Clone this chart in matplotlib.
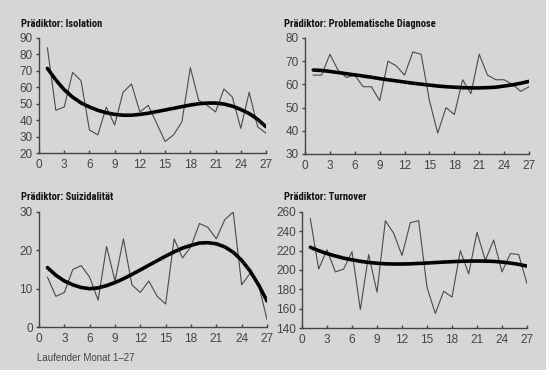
import matplotlib
matplotlib.use('Agg')
import matplotlib.pyplot as plt
from matplotlib.patches import Rectangle
from matplotlib import rcParams

rcParams['font.family'] = ['Liberation Sans', 'DejaVu Sans']
rcParams['font.size'] = 8

months = list(range(1, 28))

isolation = [84, 46, 48, 69, 64, 34, 31, 48, 37, 57, 62, 45, 49, 38, 27, 31, 39,
             72, 52, 49, 45, 59, 54, 35, 57, 36, 32]
isolation_trend = [71.5, 64.5, 58.5, 54, 50.5, 48, 46, 44.5, 43.5, 43, 43, 43.5, 44.2,
                   45.2, 46.2, 47.2, 48.2, 49.2, 50, 50.4, 50.4, 49.8, 48.5, 46.5,
                   44, 40.5, 36]

diagnose = [64, 64, 73, 66, 63, 64, 59, 59, 53, 70, 68, 64, 74, 73, 53, 39, 50,
            47, 62, 56, 73, 64, 62, 62, 60, 57, 59]
diagnose_trend = [66.2, 66, 65.6, 65.1, 64.6, 64.1, 63.6, 63.1, 62.5, 62, 61.5, 61,
                  60.5, 60.1, 59.7, 59.3, 59, 58.8, 58.6, 58.5, 58.5, 58.6, 58.8,
                  59.3, 59.8, 60.5, 61.3]

suizid = [13, 8, 9, 15, 16, 13, 7, 21, 12, 23, 11, 9, 12, 8, 6, 23, 18, 21, 27,
          26, 23, 28, 30, 11, 14, 11, 2]
suizid_trend = [15.5, 13.5, 12, 11, 10.3, 10, 10.2, 10.8, 11.6, 12.6, 13.7, 14.9,
                16.1, 17.3, 18.5, 19.6, 20.6, 21.3, 21.9, 22, 21.7, 20.9, 19.5,
                17.4, 14.6, 11, 6.8]

turnover = [253, 201, 221, 198, 201, 219, 159, 216, 177, 251, 238, 215, 249, 251,
            182, 155, 178, 172, 220, 196, 239, 210, 231, 198, 217, 216, 186]
turnover_trend = [223.5, 220, 217, 214.5, 212.3, 210.5, 209, 207.8, 207, 206.4,
                  206.2, 206.2, 206.4, 206.8, 207.2, 207.7, 208.2, 208.6, 209,
                  209.2, 209.3, 209.2, 208.9, 208.2, 207.2, 205.8, 204]

titles = ['Prädiktor: Isolation', 'Prädiktor: Problematische Diagnose',
          'Prädiktor: Suizidalität', 'Prädiktor: Turnover']
xticks = list(range(0, 28, 3))

W, H = 550, 375
fig = plt.figure(figsize=(5.5, 3.75), dpi=100, facecolor='white')
fig.patches.append(Rectangle((0, 5 / H), 546 / W, 1 - 5 / H, transform=fig.transFigure,
                             facecolor='#d6d6d6', edgecolor='none', zorder=-10))

# panel boxes in pixels: left, right, top, bottom
boxes = [(39, 266, 38, 153), (305, 529, 38, 154), (39, 267, 212, 327), (302, 527, 212, 328)]
title_pos = [(21, 24), (284, 24), (21, 197), (284, 197)]
series = [(isolation, isolation_trend, (20, 90), range(20, 91, 10)),
          (diagnose, diagnose_trend, (30, 80), range(30, 81, 10)),
          (suizid, suizid_trend, (0, 30), range(0, 31, 10)),
          (turnover, turnover_trend, (140, 260), range(140, 261, 20))]

title_font = ['Roboto Condensed', 'Liberation Sans Narrow', 'Liberation Sans', 'DejaVu Sans']

for (l, r, t, b), (tx, ty), title, (vals, trend, ylim, yt) in zip(boxes, title_pos, titles, series):
    ax = fig.add_axes([l / W, 1 - b / H, (r - l) / W, (b - t) / H])
    ax.patch.set_visible(False)
    ax.plot(months, vals, color='#4a4a4a', linewidth=0.8, zorder=2)
    ax.plot(months, trend, color='black', linewidth=2.6, solid_capstyle='round', zorder=3)
    ax.set_xlim(0, 27)
    ax.set_ylim(*ylim)
    ax.set_xticks(xticks)
    ax.set_yticks(list(yt))
    for s in ['top', 'right']:
        ax.spines[s].set_visible(False)
    for s in ['left', 'bottom']:
        ax.spines[s].set_color('#444444')
        ax.spines[s].set_linewidth(1.0)
    ax.tick_params(axis='both', colors='#444444', labelcolor='#444444', length=2.5,
                   width=1, labelsize=8.5, pad=2)
    ax.tick_params(axis='x', direction='in', pad=4)
    fig.text(tx / W, 1 - ty / H, title, family=title_font,
             fontweight='bold', fontsize=7.6, va='center', ha='left', color='#111111')

fig.text(37 / W, 1 - 358 / H, 'Laufender Monat 1–27', fontsize=7, va='center',
         ha='left', color='#444444')

fig.savefig('out.png', dpi=100, facecolor='white')
